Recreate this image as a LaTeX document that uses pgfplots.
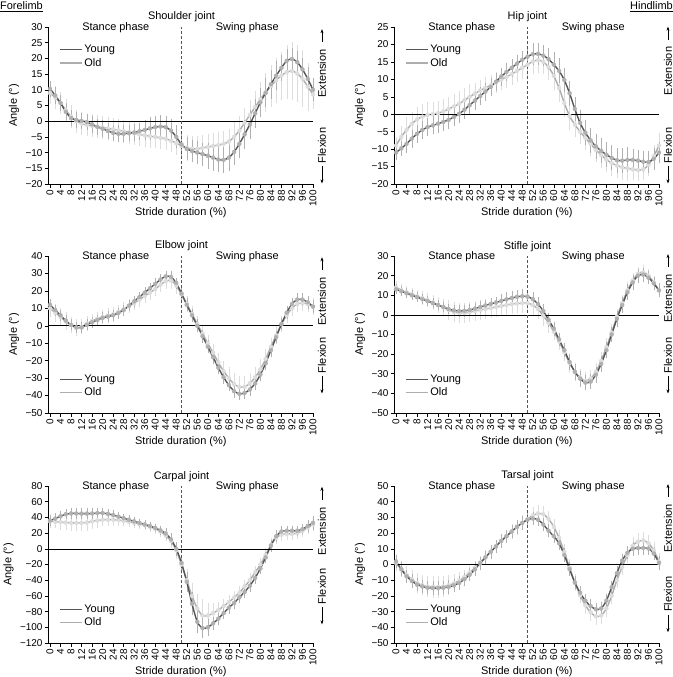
\documentclass[border=0pt]{standalone}
\usepackage{fontspec}
\setmainfont{Liberation Sans}
\usepackage{pgfplots}
\pgfplotsset{compat=1.18}
\usepackage{pgfplotstable}
\usetikzlibrary{arrows.meta}

\definecolor{youngc}{HTML}{555555}
\definecolor{oldc}{HTML}{ADADAD}
\definecolor{youngbar}{HTML}{B0B0B0}
\definecolor{oldbar}{HTML}{DDDDDD}

% x  young  young-err  old  old-err
\pgfplotstableread{
x y ye o oe
0 10.3 2 9.0 3
2 8.2 2 7.5 3
4 5.8 2 5.8 3
6 3.0 2 3.5 3
8 1.0 2 1.5 3
10 0.4 2 0.0 3
12 0.1 2 -0.8 3
14 -0.3 2 -1.2 3
16 -1.0 2 -1.5 3
18 -1.8 2 -1.8 3
20 -2.4 2 -2.0 3
22 -3.1 2 -2.3 3
24 -3.7 2 -2.6 3
26 -4.0 2 -2.9 3
28 -4.0 2 -3.2 3
30 -3.8 2 -3.5 3
32 -3.6 2 -3.8 3
34 -3.2 2 -4.2 3
36 -2.8 2.5 -4.5 3
38 -2.3 3 -4.8 3
40 -1.9 3 -5.0 3
42 -1.7 3 -5.3 3
44 -1.9 3 -5.6 3
46 -3.0 3 -6.2 3
48 -5.0 3 -7.0 3
50 -7.4 3 -7.8 3.5
52 -8.8 3 -8.5 3.5
54 -9.5 3 -8.8 3.5
56 -10.0 3 -8.8 3.5
58 -10.5 3 -8.5 3.5
60 -11.0 3.5 -8.2 3.5
62 -11.6 3.5 -7.9 3.5
64 -12.2 3.5 -7.6 3.5
66 -12.3 3.5 -7.2 3.5
68 -11.6 3.5 -6.5 3.5
70 -9.8 3.5 -5.0 4
72 -7.2 4 -3.0 4
74 -4.2 4 -0.5 4
76 -1.0 4 2.0 4
78 2.5 4 4.5 4.5
80 6.0 4 7.0 5
82 9.0 4 9.2 5.5
84 11.8 4 11.2 6
86 14.5 4 13.0 6.5
88 17.0 3.5 14.5 7
90 19.2 3 15.6 8
92 19.8 3 16.0 8.5
94 18.8 3 15.2 8.5
96 16.5 3 13.5 8.5
98 13.5 3 11.0 7
100 10.0 3 8.5 4
}\tshoulder

\pgfplotstableread{
x y ye o oe
0 -11.0 1.5 -9.0 2
2 -9.8 1.5 -6.5 2.5
4 -8.5 2 -4.5 3
6 -7.0 2 -2.8 3
8 -5.6 2 -1.5 3
10 -4.5 2 -0.7 3
12 -3.7 2 -0.2 3
14 -3.2 2 0.0 3
16 -2.7 2 0.3 3
18 -2.2 2 0.8 3
20 -1.6 2 1.5 3
22 -0.8 2 2.2 3
24 0.1 2 3.0 3
26 1.3 2 4.0 3
28 2.6 2 5.0 3
30 3.9 2 5.9 2.5
32 5.2 2 6.8 2.5
34 6.5 2 7.6 2.5
36 7.8 2 8.3 2.5
38 9.3 2 9.1 2.5
40 10.8 2 9.9 2.5
42 12.1 2 10.7 2.5
44 13.3 2 11.5 2.5
46 14.5 2 12.4 2.5
48 15.6 2 13.3 2.5
50 16.5 2.5 14.2 3
52 17.2 2.5 15.1 3
54 17.3 2.5 15.5 3
56 16.8 2.5 15.0 3
58 15.8 2.5 13.5 3
60 14.2 3 11.0 3.5
62 12.4 3 7.5 3.5
64 9.8 3 3.2 3.5
66 6.0 3 -0.5 3.5
68 1.5 3 -3.0 3
70 -2.5 3 -5.0 3
72 -5.3 3 -6.8 3
74 -7.5 3 -8.5 3
76 -9.2 3 -10.2 3
78 -10.5 3 -11.7 3
80 -11.6 3 -13.0 3
82 -12.5 3 -14.0 3
84 -13.2 3 -14.7 3
86 -13.3 3 -15.2 3
88 -13.1 3 -15.5 3
90 -13.1 2.5 -15.8 2.5
92 -13.3 2.5 -16.0 2.5
94 -13.6 2.5 -15.8 2.5
96 -13.7 2.5 -14.5 2.5
98 -12.8 2.5 -12.0 2.5
100 -11.0 2.5 -9.0 3
}\thip

\pgfplotstableread{
x y ye o oe
0 12.0 2 10.0 4
2 9.0 2 7.5 4
4 6.0 2 5.0 4
6 3.0 2 2.5 4
8 0.5 2 0.3 3.5
10 -1.0 2 -1.0 3.5
12 -1.0 2 -0.5 3
14 0.5 2 1.2 3
16 2.0 2 2.8 3
18 3.3 2 4.0 3
20 4.5 2 5.0 3
22 5.3 2 5.8 3
24 6.0 2 6.5 3
26 7.3 2 7.8 3
28 9.0 2 9.5 3
30 11.5 2 11.2 3
32 14.0 2 13.0 3
34 16.5 2 15.0 3
36 19.0 2 17.0 3
38 21.5 2 19.0 3
40 24.0 2 21.0 3
42 26.5 2 23.5 3
44 28.3 2 25.5 3
46 28.0 2 26.0 3.5
48 24.5 2 23.0 3.5
50 18.5 2.5 18.0 3.5
52 12.0 2.5 12.5 3.5
54 6.0 2.5 6.8 3.5
56 0.0 2.5 1.0 3.5
58 -6.0 2.5 -4.5 3.5
60 -12.0 2.5 -10.0 3.5
62 -18.0 2.5 -15.5 4
64 -24.0 2.5 -21.0 4
66 -29.5 2.5 -26.0 4.5
68 -34.0 2.5 -30.0 5
70 -37.5 2.5 -33.5 5
72 -39.0 2.5 -35.0 5
74 -38.5 2.5 -35.0 5
76 -36.5 2.5 -33.0 5
78 -33.0 2.5 -29.5 5
80 -28.0 2.5 -25.0 5
82 -21.5 2.5 -19.0 4.5
84 -14.0 2.5 -12.0 4
86 -6.5 2.5 -5.5 4
88 1.0 2.5 1.0 3.5
90 7.5 2.5 6.0 3.5
92 12.5 2.5 10.0 3.5
94 15.0 2.5 12.5 3.5
96 15.0 2.5 13.0 3.5
98 13.5 2.5 12.5 3.5
100 11.0 2.5 11.0 3.5
}\telbow

\pgfplotstableread{
x y ye o oe
0 13.0 1.5 14.0 2
2 12.0 1.5 12.7 2
4 11.0 1.5 11.5 2
6 10.0 1.5 10.5 2
8 9.0 1.5 9.5 2
10 8.0 1.5 8.5 2.5
12 7.0 1.5 7.5 2.5
14 6.0 1.5 6.3 3
16 5.0 1.5 5.0 3
18 4.0 1.5 3.8 3.5
20 3.0 1.5 2.5 4
22 2.3 1.5 1.5 4
24 2.0 2 1.0 4
26 2.1 2 1.0 4
28 2.5 2 1.4 4
30 3.2 2 2.0 4
32 4.0 2 2.5 4
34 4.8 2 3.0 4
36 5.6 2 3.5 4
38 6.3 2 4.0 4
40 7.1 2.5 4.5 4
42 7.9 2.5 5.0 4
44 8.6 2.5 5.5 4
46 9.2 2.5 5.8 4
48 9.5 2.5 6.0 4
50 9.3 2.5 6.0 4
52 8.0 2.5 5.0 4
54 5.5 2.5 3.0 4
56 2.0 2.5 -0.5 4
58 -2.5 2.5 -4.0 4
60 -7.0 2.5 -8.5 3.5
62 -12.5 2.5 -13.5 3.5
64 -18.0 2.5 -19.0 3.5
66 -24.0 3 -24.5 3.5
68 -29.0 3 -29.0 3.5
70 -32.5 3 -32.0 3.5
72 -34.5 3 -33.5 3.5
74 -34.0 3 -32.5 3.5
76 -30.5 3 -29.0 3.5
78 -25.0 3 -23.5 3.5
80 -18.0 3 -16.5 3.5
82 -10.0 3 -9.0 3.5
84 -2.0 3 -1.0 3
86 5.0 3 6.0 3
88 11.5 3 12.5 3
90 16.5 3 17.5 3
92 20.0 2.5 21.0 2.5
94 20.5 2.5 21.7 2.5
96 19.0 2.5 20.0 2.5
98 16.0 2.5 16.5 2.5
100 12.5 2.5 12.5 2.5
}\tstifle

\pgfplotstableread{
x y ye o oe
0 36 4 35 6
2 38.5 4 34.5 6
4 41.5 4 34 7
6 44 4 33.5 7
8 45 4 33 8
10 45 4 33 8
12 44.8 4 33 8
14 44.8 4 33.5 8
16 45 4 35 7
18 45.5 4 36 7
20 45.5 4 37 6
22 44.5 4 37 6
24 43 4 37 5
26 41 3 36.5 5
28 39 3 35.5 4
30 37 3 34.5 4
32 35 3 33 4
34 33 3 31.5 4
36 31 3 30 4
38 29 3 28 4
40 26.5 3 25.5 4
42 23.5 3 22 4
44 19.5 4 17 5
46 12 5 10 6
48 0 6 -2 8
50 -18 8 -20 10
52 -42 10 -40 12
54 -70 12 -60 14
56 -93 12 -76 16
58 -101 10 -85 18
60 -100 8 -85 14
62 -95 6 -82 10
64 -89 5 -78 8
66 -82 5 -73 7
68 -75 5 -68 6
70 -69 5 -62 6
72 -62 5 -56 6
74 -55 5 -48 6
76 -47 5 -40 6
78 -37 5 -30 6
80 -25 5 -20 6
82 -11 5 -8 6
84 4 5 5 6
86 16 5 14 5
88 22 4 18 5
90 23 4 19 5
92 23 4 19 5
94 23 4 20 5
96 25 4 23 5
98 29 5 27 5
100 33 6 31 6
}\tcarpal

\pgfplotstableread{
x y ye o oe
0 2 3 1 4
2 -3 3 -3 4
4 -7.5 3 -6.5 4
6 -10.5 3 -9.5 4.5
8 -12.8 3 -11.8 5
10 -14 3 -13.2 5
12 -14.8 3 -14 5.5
14 -15 3 -14.3 5.5
16 -15 3 -14.3 5.5
18 -14.8 3 -14 5.5
20 -14.3 3 -13.2 5
22 -13.3 3 -12 4.5
24 -11.7 3 -10.3 4
26 -9.4 3 -8 3.5
28 -6.5 3 -5.2 3
30 -3 3 -2 3
32 0.8 3 1.3 3
34 4.5 3 4.8 3
36 8 3 8.2 3
38 11.5 3 11.6 3
40 15 3 15 3
42 18 3 18 3
44 21 3 21 3.5
46 24 3 23.8 3.5
48 26.5 3 26.5 3.5
50 28.5 3 29 4
52 29.3 3 31.2 4
54 28.5 3 32.5 4
56 25.5 3 32 4
58 21.5 3 29 4
60 18 3 24 4
62 13.5 3 17 4
64 6 3 8 4
66 -3 3 -2 4
68 -11.5 3 -11.5 4
70 -18 3 -19.5 4
72 -23 3 -26 4
74 -26.5 3 -30.5 4
76 -28.5 3 -33 4
78 -28 3 -32.5 4
80 -23 3 -28 4
82 -14.5 3 -20 4
84 -5.5 3 -10 4
86 2.5 3 -1.5 4
88 7.5 3 6 4
90 10 3 12 4
92 10.5 3 14.5 4
94 10.5 3 15.3 4
96 10.2 3 13.5 4
98 7 3 9 4
100 1 3 2 4
}\ttarsal

\pgfplotsset{
  limbaxis/.style={
    scale only axis, width=264.3bp, height=157bp, anchor=south west,
    xmin=-0.5, xmax=100,
    axis x line*=bottom, axis y line*=left,
    axis line style={line width=0.6pt},
    tick align=outside, major tick length=4bp,
    tick style={black, line width=0.5pt},
    xtick={0,4,...,100},
    /pgf/number format/assume math mode=true,
    xticklabel style={rotate=90, anchor=east, font=\fontsize{10}{10}\selectfont, inner sep=2bp},
    yticklabel style={font=\fontsize{10}{10}\selectfont, inner sep=2bp},
    xlabel={Stride duration (\%)}, ylabel={Angle (°)},
    label style={font=\fontsize{11}{12}\selectfont},
    xlabel style={yshift=4.5bp},
    ylabel style={yshift=1bp},
    clip=false,
    legend cell align=left,
    legend style={draw=none, fill=none, font=\fontsize{11}{12}\selectfont,
      inner sep=0pt, row sep=1bp, nodes={inner sep=1.5bp}},
    legend image code/.code={\draw[##1] (0bp,0bp) -- (22bp,0bp);},
  },
  errold/.style={forget plot, only marks, mark=none, color=oldbar,
    error bars/.cd, y dir=both, y explicit,
    error bar style={line width=0.35pt, color=oldbar},
    error mark=-, error mark options={mark size=2bp, line width=0.35pt, color=oldbar}},
  erryoung/.style={forget plot, only marks, mark=none, color=youngbar,
    error bars/.cd, y dir=both, y explicit,
    error bar style={line width=0.35pt, color=youngbar},
    error mark=-, error mark options={mark size=2bp, line width=0.35pt, color=youngbar}},
  lold/.style={forget plot, smooth, color=oldc, line width=1.4pt},
  lyoung/.style={forget plot, smooth, color=youngc, line width=1.4pt},
}

% draws the contents of one panel
\newcommand{\panel}[6]{%
  % #1 table, #2 title, #3 ymin, #4 ymax, #5 ext rel y, #6 flex rel y
  \addplot[errold] table[x=x, y=o, y error=oe] {#1};
  \addplot[erryoung] table[x=x, y=y, y error=ye] {#1};
  \addplot[lold] table[x=x, y=o] {#1};
  \addplot[lyoung] table[x=x, y=y] {#1};
  \addlegendimage{youngc, line width=1.4pt}\addlegendentry{Young}
  \addlegendimage{oldc, line width=1.4pt}\addlegendentry{Old}
  \draw[black, line width=0.6pt] (axis cs:-0.5,0) -- (axis cs:100,0);
  \draw[youngc, line width=0.5pt, dash pattern=on 3bp off 2bp] (axis cs:50,#3) -- (axis cs:50,#4);
  \node[anchor=base, font=\fontsize{11}{12}\selectfont] at ([yshift=7bp]axis cs:50,#4) {#2};
  \node[anchor=base, font=\fontsize{11}{12}\selectfont] at ([yshift=-3.5bp]axis cs:25,#4) {Stance phase};
  \node[anchor=base, font=\fontsize{11}{12}\selectfont] at ([yshift=-3.5bp]axis cs:75,#4) {Swing phase};
  \node[rotate=90, inner sep=0pt, font=\fontsize{11}{12}\selectfont] (ext) at (rel axis cs:1.034,#5) {Extension};
  \draw[-{Stealth[length=4bp,width=3bp]}, line width=0.5pt] ([yshift=7bp]ext.east) -- ([yshift=20bp]ext.east);
  \node[rotate=90, inner sep=0pt, font=\fontsize{11}{12}\selectfont] (flx) at (rel axis cs:1.034,#6) {Flexion};
  \draw[-{Stealth[length=4bp,width=3bp]}, line width=0.5pt] ([yshift=-3bp]flx.west) -- ([yshift=-20bp]flx.west);
}

\begin{document}
\begin{tikzpicture}
% ---------- Shoulder ----------
\begin{axis}[limbaxis, at={(48.7bp,493bp)}, ymin=-20, ymax=30,
  ytick={-20,-15,-10,-5,0,5,10,15,20,25,30},
  yticklabels={−20,−15,−10,−5,0,5,10,15,20,25,30},
  legend style={at={(0.04,0.895)}, anchor=north west}]
  \panel{\tshoulder}{Shoulder joint}{-20}{30}{0.704}{0.245}
\end{axis}
% ---------- Hip ----------
\begin{axis}[limbaxis, at={(394.7bp,493bp)}, ymin=-20, ymax=25,
  ytick={-20,-15,-10,-5,0,5,10,15,20,25},
  yticklabels={−20,−15,−10,−5,0,5,10,15,20,25},
  legend style={at={(0.04,0.895)}, anchor=north west}]
  \panel{\thip}{Hip joint}{-20}{25}{0.72}{0.245}
\end{axis}
% ---------- Elbow ----------
\begin{axis}[limbaxis, at={(48.7bp,264bp)}, ymin=-50, ymax=40,
  ytick={-50,-40,-30,-20,-10,0,10,20,30,40},
  yticklabels={−50,−40,−30,−20,−10,0,10,20,30,40},
  legend style={at={(0.04,0.09)}, anchor=south west}]
  \panel{\telbow}{Elbow joint}{-50}{40}{0.71}{0.366}
\end{axis}
% ---------- Stifle ----------
\begin{axis}[limbaxis, at={(394.7bp,264bp)}, ymin=-50, ymax=30,
  ytick={-50,-40,-30,-20,-10,0,10,20,30},
  yticklabels={−50,−40,−30,−20,−10,0,10,20,30},
  legend style={at={(0.04,0.09)}, anchor=south west}]
  \panel{\tstifle}{Stifle joint}{-50}{30}{0.73}{0.366}
\end{axis}
% ---------- Carpal ----------
\begin{axis}[limbaxis, at={(48.7bp,34bp)}, ymin=-120, ymax=80,
  ytick={-120,-100,-80,-60,-40,-20,0,20,40,60,80},
  yticklabels={−120,−100,−80,−60,−40,−20,0,20,40,60,80},
  legend style={at={(0.04,0.09)}, anchor=south west}]
  \panel{\tcarpal}{Carpal joint}{-120}{80}{0.713}{0.36}
\end{axis}
% ---------- Tarsal ----------
\begin{axis}[limbaxis, at={(394.7bp,34bp)}, ymin=-50, ymax=50,
  ytick={-50,-40,-30,-20,-10,0,10,20,30,40,50},
  yticklabels={−50,−40,−30,−20,−10,0,10,20,30,40,50},
  legend style={at={(0.04,0.09)}, anchor=south west}]
  \panel{\ttarsal}{Tarsal joint}{-50}{50}{0.73}{0.31}
\end{axis}
\node[anchor=base west, inner sep=0pt, font=\fontsize{11}{12}\selectfont] at (0bp,667bp) {\underline{Forelimb}};
\node[anchor=base east, inner sep=0pt, font=\fontsize{11}{12}\selectfont] at (673bp,667bp) {\underline{Hindlimb}};
\pgfresetboundingbox
\path[use as bounding box] (0bp,0bp) rectangle (673bp,677bp);
\end{tikzpicture}
\end{document}
